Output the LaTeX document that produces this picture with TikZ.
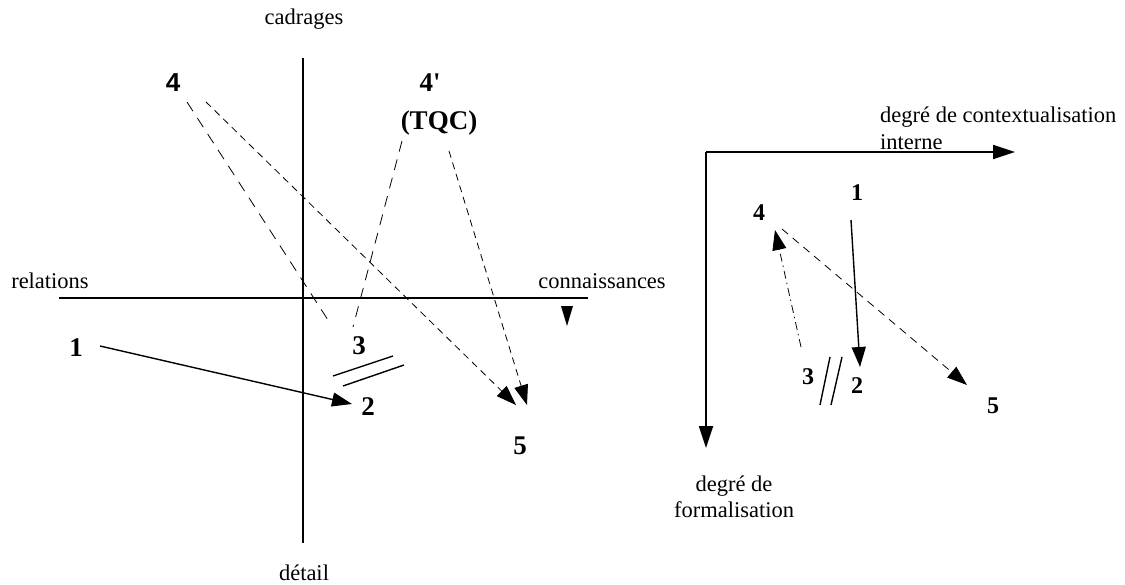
\documentclass[tikz,border=0pt]{standalone}
\usepackage{fontspec}
\setmainfont{Liberation Serif}
\newfontfamily\helvfont{Liberation Sans}
\usetikzlibrary{arrows.meta}

\begin{document}
\begin{tikzpicture}[
  x=1pt, y=-1pt,
  lbl/.style={font=\fontsize{22.5}{26}\selectfont, inner sep=0pt},
  num/.style={font=\fontsize{27}{30}\selectfont\bfseries, inner sep=0pt},
  numr/.style={font=\fontsize{24}{28}\selectfont\bfseries, inner sep=0pt},
  axis/.style={line width=1.8pt},
  longdash/.style={line width=0.8pt, dash pattern=on 11pt off 8pt},
  shortdash/.style={line width=0.8pt, dash pattern=on 7pt off 5pt},
  dashdot/.style={line width=0.8pt, dash pattern=on 8pt off 4pt on 1.5pt off 4pt},
  ar/.style={-{Triangle[length=20pt,width=14pt]}}
]
\useasboundingbox (0,0) rectangle (1125,584);

% left diagram: axes
\draw[axis] (303,58) -- (303,543);
\draw[axis] (59,298) -- (588,298);
\fill (561,306) -- (573,306) -- (567,326) -- cycle;
\node[lbl, anchor=base] (cadr) at (304,24) {cadrages};
\node[lbl, anchor=base] (detail) at (304,580) {détail};
\node[lbl, anchor=base] (rel) at (50,288) {relations};
\node[lbl, anchor=base] (conn) at (602,288) {connaissances};

% left diagram: points
\node[num, font=\fontsize{26}{28}\selectfont\bfseries\helvfont] (l4) at (173,83) {4};
\node[num] (l4p) at (430,83) {4\textquotesingle};
\node[num] (tqc) at (439,123) {(TQC)};
\node[num] (l1) at (76,348) {1};
\node[num] (l3) at (359,346) {3};
\node[num] (l2) at (368,407) {2};
\node[num] (l5) at (520,446) {5};

\draw[longdash] ([shift={(14,19)}]l4.center) -- ([shift={(-31,-26)}]l3.center);
\draw[shortdash, ar] ([shift={(33,19)}]l4.center) -- ([shift={(-4,-41)}]l5.center);
\draw[longdash] ([shift={(-37,18)}]tqc.center) -- ([shift={(-6,-19)}]l3.center);
\draw[shortdash, ar] ([shift={(10,28)}]tqc.center) -- ([shift={(7,-41)}]l5.center);
\draw[line width=1.4pt, ar] ([shift={(24,-2)}]l1.center) -- ([shift={(-16,-3)}]l2.center);
\draw[line width=1.4pt] ([shift={(-26,30)}]l3.center) -- ([shift={(34,10)}]l3.center);
\draw[line width=1.4pt] ([shift={(-16,40)}]l3.center) -- ([shift={(45,19)}]l3.center);

% right diagram: axes
\coordinate (orig) at (706,152);
\coordinate (xend) at (1015,152);
\coordinate (yend) at (706,448);
\draw[axis, -{Triangle[length=22pt,width=14pt]}] (orig) -- (xend);
\draw[axis, -{Triangle[length=22pt,width=14pt]}] (orig) -- (yend);
\node[lbl, anchor=base west] (ctx) at (880,122) {degré de contextualisation};
\node[lbl, anchor=base west] (ctx2) at (880,149) {interne};
\node[lbl, align=center, anchor=base] (form) at (734,517) {degré de\\formalisation};

% right diagram: points
\node[numr] (r1) at (857,193) {1};
\node[numr] (r4) at (759,213) {4};
\node[numr] (r3) at (808,377) {3};
\node[numr] (r2) at (857,386) {2};
\node[numr] (r5) at (993,406) {5};

\draw[line width=1.4pt, ar] ([shift={(-6,27)}]r1.center) -- ([shift={(3,-19)}]r2.center);
\draw[dashdot, ar] ([shift={(-7,-30)}]r3.center) -- ([shift={(16,17)}]r4.center);
\draw[shortdash, dash pattern=on 8pt off 6pt, ar] ([shift={(23,16)}]r4.center) -- ([shift={(-26,-21)}]r5.center);
\draw[line width=1.4pt] ([shift={(12,28)}]r3.center) -- ([shift={(22,-20)}]r3.center);
\draw[line width=1.4pt] ([shift={(23,28)}]r3.center) -- ([shift={(34,-20)}]r3.center);
\end{tikzpicture}
\end{document}
